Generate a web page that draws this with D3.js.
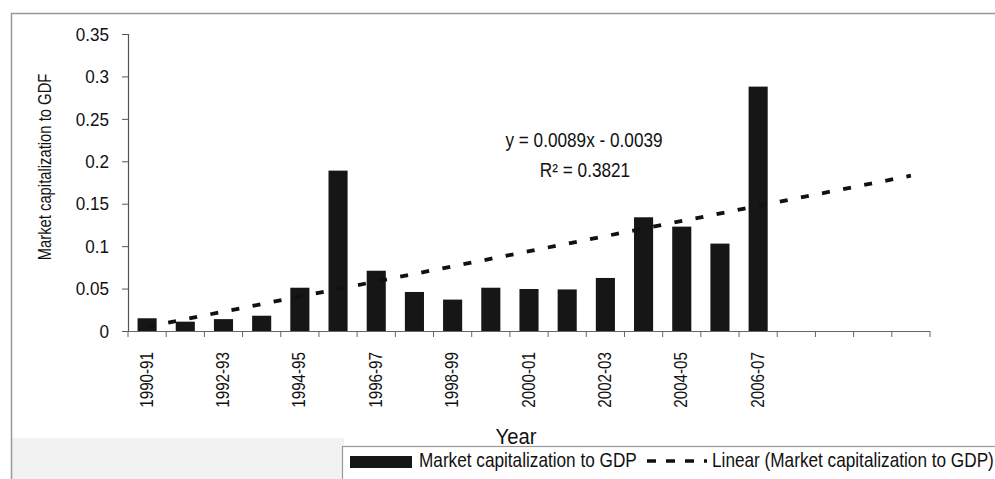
<!DOCTYPE html>
<html>
<head>
<meta charset="utf-8">
<script src="https://cdn.jsdelivr.net/npm/d3@7"></script>
<style>
  html, body { margin: 0; padding: 0; background: #fff; }
  svg { display: block; }
</style>
</head>
<body>
<svg id="chart" width="995" height="479"></svg>
<script>
// ---- data ----
const categories = ["1990-91","1991-92","1992-93","1993-94","1994-95","1995-96","1996-97","1997-98","1998-99","1999-00","2000-01","2001-02","2002-03","2003-04","2004-05","2005-06","2006-07"];
const values = [0.015,0.011,0.014,0.018,0.051,0.189,0.071,0.046,0.037,0.051,0.0495,0.049,0.0625,0.134,0.123,0.103,0.288];
const emptySlots = ["","","",""]; // unlabeled categories after 2006-07
const tickLabels = ["1990-91","1992-93","1994-95","1996-97","1998-99","2000-01","2002-03","2004-05","2006-07"];
const yTicks = [0,0.05,0.1,0.15,0.2,0.25,0.3,0.35];
const trendSlope = 0.0089;
const trendIntercept = -0.0039;
const trendLabel = ["y = 0.0089x  - 0.0039", "R² = 0.3821"];
const yTitle = "Market capitalization to GDF";
const xTitle = "Year";
const legendLabels = ["Market capitalization to GDP", "Linear (Market capitalization to GDP)"];

const FONT = "'Liberation Sans', Arial, sans-serif";
const svg = d3.select("#chart").style("font-family", FONT);

// condensed text helper (Arial-Narrow look)
function txt(parent, o) {
  const g = parent.append("g").attr("transform", `translate(${o.x},${o.y}) rotate(${o.rotate || 0})`);
  const t = g.append("text").attr("transform", `scale(${o.k},1)`)
    .attr("text-anchor", o.anchor || "start").attr("dy", o.dy || 0)
    .attr("fill", "#111").style("font-size", o.size + "px").text(o.text);
  return t;
}

// background bits of the scanned page
svg.append("rect").attr("x", 12).attr("y", 438).attr("width", 332).attr("height", 41).attr("fill", "#f2f2f2");
svg.append("line").attr("x1", 11.5).attr("x2", 11.5).attr("y1", 13).attr("y2", 479).attr("stroke", "#999").attr("stroke-width", 1.5);
svg.append("line").attr("x1", 11).attr("x2", 995).attr("y1", 13.5).attr("y2", 13.5).attr("stroke", "#999").attr("stroke-width", 1.5);

// ---- scales ----
const idx = d3.range(1, categories.length + emptySlots.length + 1);
const x = d3.scaleBand().domain(idx).range([128, 930]).paddingInner(0.5).paddingOuter(0.25);
const y = d3.scaleLinear().domain([0, 0.35]).range([331, 34]);
const step = x.step();
const cx = i => x(i) + x.bandwidth() / 2;

// ---- y axis ----
const yAxis = d3.axisLeft(y).tickValues(yTicks).tickSize(6).tickFormat("");
const gy = svg.append("g").attr("transform", "translate(128,0)").call(yAxis);
gy.select(".domain").attr("stroke", "#555").attr("stroke-width", 1.2);
gy.selectAll(".tick line").attr("stroke", "#555");
yTicks.forEach(v => txt(svg, { x: 109, y: y(v), k: 0.9, size: 19, anchor: "end", dy: "0.35em",
  text: v === 0 ? "0" : String(+v.toFixed(2)) }));

// ---- x axis ----
const gx = svg.append("g");
gx.append("line").attr("x1", 128).attr("x2", 930).attr("y1", 331.5).attr("y2", 331.5).attr("stroke", "#666").attr("stroke-width", 1.2);
const boundaries = idx.map(i => x(i) - step * 0.25).concat([930]);
gx.selectAll("line.tk").data(boundaries).join("line").attr("class", "tk")
  .attr("x1", d => d).attr("x2", d => d).attr("y1", 331).attr("y2", 337).attr("stroke", "#666");
tickLabels.forEach(d => txt(gx, { x: cx(categories.indexOf(d) + 1) + 5.5, y: 352, rotate: -90, k: 0.8, size: 19,
  anchor: "end", text: d }));

// ---- bars ----
svg.append("g").selectAll("rect").data(values).join("rect")
  .attr("x", (d, i) => x(i + 1)).attr("width", x.bandwidth())
  .attr("y", d => y(d)).attr("height", d => y(0) - y(d)).attr("fill", "#161616");

// ---- trend line ----
const tx = [1, idx.length];
svg.append("line")
  .attr("x1", cx(tx[0])).attr("y1", y(trendSlope * tx[0] + trendIntercept))
  .attr("x2", cx(tx[1])).attr("y2", y(trendSlope * tx[1] + trendIntercept))
  .attr("stroke", "#111").attr("stroke-width", 3.8).attr("stroke-dasharray", "8,13.5");

// ---- trend equation ----
txt(svg, { x: 584, y: 146.5, k: 0.86, size: 20, anchor: "middle", text: trendLabel[0] });
txt(svg, { x: 585, y: 177, k: 0.86, size: 20, anchor: "middle", text: trendLabel[1] });

// ---- axis titles ----
txt(svg, { x: 51, y: 167, rotate: -90, k: 0.78, size: 19, anchor: "middle", text: yTitle });
txt(svg, { x: 516, y: 444, k: 0.92, size: 22, anchor: "middle", text: xTitle });

// ---- legend ----
const lg = svg.append("g");
lg.append("rect").attr("x", 342.5).attr("y", 446.5).attr("width", 700).attr("height", 60)
  .attr("fill", "#fff").attr("stroke", "#999").attr("stroke-width", 1.2);
lg.append("rect").attr("x", 350).attr("y", 456).attr("width", 62).attr("height", 12).attr("fill", "#161616");
txt(lg, { x: 419, y: 467, k: 0.86, size: 20, text: legendLabels[0] });
lg.append("line").attr("x1", 647).attr("x2", 707).attr("y1", 461).attr("y2", 461)
  .attr("stroke", "#111").attr("stroke-width", 3.5).attr("stroke-dasharray", "9,10");
txt(lg, { x: 712, y: 467, k: 0.86, size: 20, text: legendLabels[1] });
</script>
</body>
</html>
